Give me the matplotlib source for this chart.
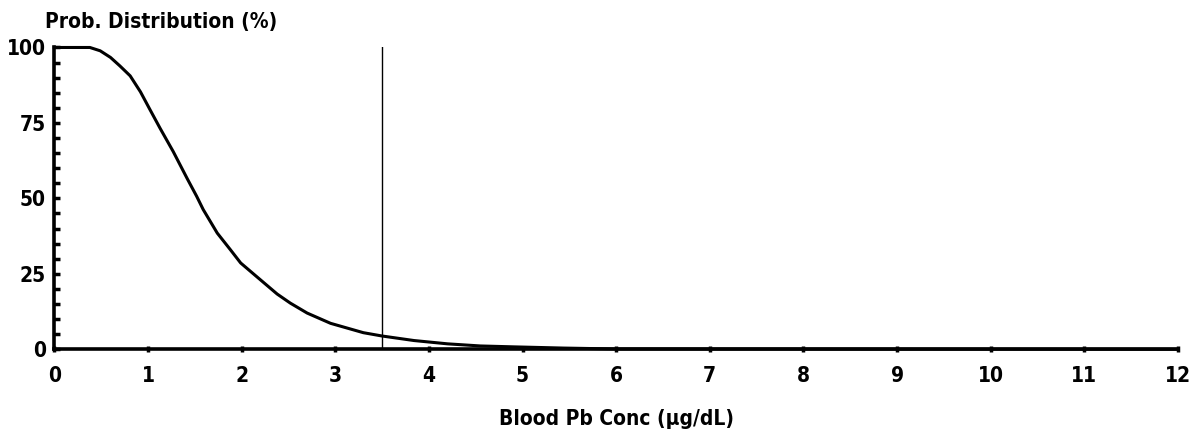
import matplotlib
matplotlib.use("Agg")
import matplotlib.pyplot as plt
from matplotlib.ticker import MultipleLocator

conc = [0.0, 0.38, 0.49, 0.60, 0.70, 0.81, 0.92, 1.02, 1.13, 1.27, 1.42, 1.52,
        1.59, 1.74, 1.88, 1.99, 2.16, 2.38, 2.52, 2.70, 2.95, 3.30, 3.50, 3.84,
        4.20, 4.55, 4.91, 5.44, 6.0, 12.0]
prob = [100, 100, 98.9, 96.7, 93.9, 90.6, 85.3, 79.5, 73.2, 65.5, 56.5, 50.7,
        46.3, 38.5, 33.0, 28.6, 24.1, 18.3, 15.3, 12.0, 8.6, 5.5, 4.4, 2.9,
        1.8, 1.1, 0.8, 0.4, 0.1, 0.0]
cutoff = 3.5
x_ticks = list(range(0, 13))
y_ticks = [0, 25, 50, 75, 100]

plt.rcParams['font.family'] = ['DejaVu Sans']
plt.rcParams['font.stretch'] = 'condensed'
plt.rcParams['font.weight'] = 'bold'

fig = plt.figure(figsize=(11.99, 4.36), dpi=100)
ax = fig.add_axes([0.0453, 0.1989, 0.9372, 0.6922])
ax.plot(conc, prob, color='black', lw=2.2, solid_joinstyle='round', clip_on=False)
ax.plot([cutoff, cutoff], [0, 100], color='black', lw=1.0)

ax.set_xlim(0, 12)
ax.set_ylim(0, 100)
for s in ['top', 'right']:
    ax.spines[s].set_visible(False)
for s in ['left', 'bottom']:
    ax.spines[s].set_linewidth(2.6)
    ax.spines[s].set_zorder(5)

ax.set_xticks(x_ticks)
ax.set_xticklabels([str(v) for v in x_ticks])
ax.set_yticks(y_ticks)
ax.set_yticklabels([str(v) for v in y_ticks])
ax.yaxis.set_minor_locator(MultipleLocator(5))
ax.tick_params(axis='x', direction='inout', length=4, width=2.5, pad=10, labelsize=15)
ax.tick_params(axis='y', which='major', direction='in', length=4, width=2.5, pad=6, labelsize=15)
ax.tick_params(axis='y', which='minor', direction='in', length=4, width=2.5)

fig.text(0.0375, 0.95, 'Prob. Distribution (%)', fontsize=15, fontweight='bold',
         ha='left', va='center')
fig.text(0.514, 0.040, 'Blood Pb Conc (µg/dL)', fontsize=15, fontweight='bold',
         ha='center', va='center')

fig.savefig('out.png', dpi=100)
